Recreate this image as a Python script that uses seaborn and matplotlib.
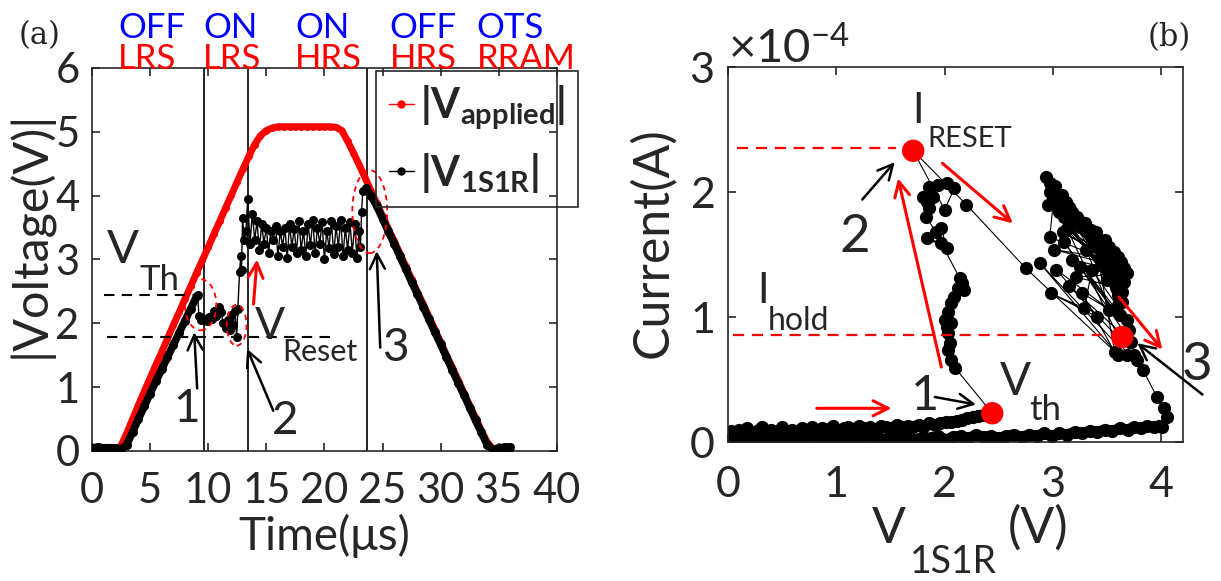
import numpy as np
import matplotlib
matplotlib.use("Agg")
import matplotlib.pyplot as plt
import matplotlib.transforms as mtransforms
import seaborn as sns
from matplotlib.patches import Ellipse
from matplotlib.lines import Line2D
from matplotlib.ticker import ScalarFormatter

# ---------------------------------
# Panel (a): |V| vs time
# ---------------------------------
t_applied = [0.0, 0.5, 1.0, 1.5, 2.0, 2.5, 3.0, 3.5, 4.0, 4.5,
             5.0, 5.5, 6.0, 6.5, 7.0, 7.5, 8.0, 8.5, 9.0, 9.5,
             10.0, 10.5, 11.0, 11.5, 12.0, 12.5, 13.0, 13.5, 14.0, 14.5,
             15.0, 15.5, 16.0, 16.5, 17.0, 17.5, 18.0, 18.5, 19.0, 19.5,
             20.0, 20.5, 21.0, 21.5, 22.0, 22.5, 23.0, 23.5, 24.0, 24.5,
             25.0, 25.5, 26.0, 26.5, 27.0, 27.5, 28.0, 28.5, 29.0, 29.5,
             30.0, 30.5, 31.0, 31.5, 32.0, 32.5, 33.0, 33.5, 34.0, 34.5,
             35.0, 35.5, 36.0]
v_applied = [0.02, 0.02, 0.02, 0.02, 0.02, 0.08, 0.28, 0.50, 0.72, 0.93,
             1.14, 1.35, 1.55, 1.76, 1.97, 2.17, 2.38, 2.58, 2.79, 2.99,
             3.19, 3.40, 3.60, 3.81, 4.01, 4.22, 4.42, 4.62, 4.80, 4.94,
             5.02, 5.06, 5.08, 5.08, 5.08, 5.08, 5.08, 5.08, 5.08, 5.08,
             5.08, 5.08, 5.07, 5.02, 4.85, 4.67, 4.48, 4.28, 4.08, 3.88,
             3.68, 3.48, 3.29, 3.09, 2.89, 2.69, 2.49, 2.30, 2.10, 1.90,
             1.70, 1.50, 1.31, 1.11, 0.91, 0.71, 0.52, 0.32, 0.14, 0.03,
             0.02, 0.02, 0.02]

# |V_1S1R|: ramp up, switching, HRS noise, ramp down
t_rise = [0.0, 0.5, 1.0, 1.5, 2.0, 2.5, 3.0, 3.5, 4.0, 4.5, 5.0, 5.5, 6.0,
          6.5, 7.0, 7.5, 8.0, 8.5, 9.0]
v_rise = [0.05, 0.06, 0.05, 0.05, 0.05, 0.03, 0.10, 0.30, 0.50, 0.70, 0.90,
          1.09, 1.28, 1.47, 1.66, 1.85, 2.04, 2.23, 2.42]
t_sw = [9.1, 9.2, 9.35, 9.5, 9.7, 9.9, 10.1, 10.3, 10.5, 10.7,
        10.9, 11.1, 11.3, 11.5, 11.7, 11.9, 12.0, 12.15, 12.3, 12.45,
        12.55, 12.7, 12.8, 12.87, 12.96, 13.1, 13.25]
v_sw = [2.44, 2.12, 2.05, 2.08, 2.05, 2.03, 2.10, 2.06, 2.20, 2.12,
        2.25, 2.18, 2.00, 1.93, 2.05, 1.90, 2.13, 1.98, 2.20, 1.78,
        2.22, 2.80, 3.05, 2.84, 3.65, 3.30, 3.45]
t_hrs = [13.4, 13.6, 13.8, 14.0, 14.2, 14.4, 14.6, 14.8, 15.0, 15.2,
         15.4, 15.6, 15.8, 16.0, 16.2, 16.4, 16.6, 16.8, 17.0, 17.2,
         17.4, 17.6, 17.8, 18.0, 18.2, 18.4, 18.6, 18.8, 19.0, 19.2,
         19.4, 19.6, 19.8, 20.0, 20.2, 20.4, 20.6, 20.8, 21.0, 21.2,
         21.4, 21.6, 21.8, 22.0, 22.2, 22.4, 22.6, 22.8, 23.0, 23.1,
         23.2, 23.3]
v_hrs = [3.95, 3.25, 3.72, 3.30, 3.60, 3.15, 3.55, 3.25, 3.50, 3.10,
         3.45, 3.30, 3.52, 3.05, 3.45, 3.20, 3.50, 3.02, 3.55, 3.20,
         3.48, 3.10, 3.60, 3.15, 3.45, 3.05, 3.55, 3.22, 3.62, 3.10,
         3.50, 3.25, 3.58, 3.00, 3.45, 3.18, 3.60, 3.08, 3.52, 3.20,
         3.62, 3.05, 3.50, 3.15, 3.58, 3.10, 3.55, 3.02, 3.45, 3.20,
         3.75, 4.08]
t_fall = [23.6, 24.0, 24.5, 25.0, 25.5, 26.0, 26.5, 27.0, 27.5, 28.0,
          28.5, 29.0, 29.5, 30.0, 30.5, 31.0, 31.5, 32.0, 32.5, 33.0,
          33.5, 34.0, 34.5, 35.0, 35.5, 36.0]
v_fall = [4.12, 4.00, 3.84, 3.64, 3.44, 3.25, 3.05, 2.85, 2.65, 2.46,
          2.26, 2.06, 1.86, 1.67, 1.47, 1.27, 1.07, 0.88, 0.68, 0.48,
          0.29, 0.10, 0.02, 0.05, 0.06, 0.06]

t_regions = [9.68, 13.4, 23.7]
v_th_level = 2.44
v_reset_level = 1.79

state_t = [2.24, 9.57, 17.5, 25.6, 33.1]
state_ots = ["OFF", "ON", "ON", "OFF", "OTS"]
state_rram = ["LRS", "LRS", "HRS", "HRS", "RRAM"]

# ---------------------------------
# Panel (b): I-V of the 1S1R cell (current in 1e-4 A)
# ---------------------------------
I_UNIT = 1e-4
b_rise_v = [0.00, 0.03, 0.06, 0.10, 0.14, 0.18, 0.22, 0.27, 0.31, 0.36,
            0.40, 0.45, 0.50, 0.54, 0.59, 0.64, 0.68, 0.73, 0.78, 0.83,
            0.87, 0.92, 0.97, 1.02, 1.07, 1.11, 1.16, 1.21, 1.26, 1.31,
            1.36, 1.41, 1.46, 1.51, 1.56, 1.61, 1.66, 1.71, 1.76, 1.81,
            1.86, 1.91, 1.96, 2.01, 2.06, 2.11, 2.16, 2.21, 2.26, 2.31,
            2.36, 2.40]
b_rise_i = [0.05, 0.09, 0.04, 0.10, 0.07, 0.11, 0.05, 0.09, 0.12, 0.06,
            0.10, 0.08, 0.12, 0.07, 0.10, 0.05, 0.11, 0.09, 0.12, 0.08,
            0.11, 0.10, 0.13, 0.09, 0.11, 0.12, 0.10, 0.13, 0.11, 0.12,
            0.10, 0.13, 0.12, 0.11, 0.14, 0.12, 0.13, 0.12, 0.14, 0.13,
            0.15, 0.14, 0.15, 0.16, 0.16, 0.17, 0.18, 0.19, 0.20, 0.21,
            0.22, 0.23]
b_sw_v = [2.44, 2.10, 2.06, 2.03, 2.05, 2.03, 2.02, 2.06, 2.00, 2.03,
          2.06, 2.09, 2.12, 2.18, 2.16, 2.14, 1.97, 1.84, 2.02, 1.97,
          1.92, 1.83, 1.86, 1.84, 1.89, 1.80, 1.86, 1.94, 2.02, 2.09,
          2.00, 1.71, 2.20, 2.75]
b_sw_i = [0.23, 0.59, 0.66, 0.74, 0.79, 0.87, 0.92, 0.95, 0.98, 1.04,
          1.11, 1.16, 1.23, 1.22, 1.27, 1.31, 1.59, 1.63, 1.55, 1.71,
          1.68, 1.80, 1.87, 1.92, 1.96, 1.96, 2.04, 2.06, 2.07, 2.03,
          1.86, 2.33, 1.90, 1.39]
b_hrs_v = [3.60, 2.88, 3.68, 2.97, 3.25, 2.94, 3.30, 2.97, 3.35, 3.00,
           3.40, 3.05, 3.45, 2.95, 3.50, 3.06, 3.55, 3.09, 3.60, 2.97,
           3.02, 3.40, 3.08, 3.48, 3.12, 3.52, 3.15, 3.56, 3.18, 3.60,
           3.22, 3.63, 3.26, 3.58, 3.30, 3.55, 3.34, 3.50, 3.38, 3.62,
           3.42, 3.66, 3.45, 3.60, 3.48, 3.64, 3.10, 3.44, 3.14, 3.53,
           3.66, 3.01, 3.57, 3.12, 3.62, 3.18, 3.68, 3.21, 3.58, 3.31,
           3.52, 3.03, 3.41, 2.98, 3.29, 3.36, 3.68, 3.27, 3.57, 3.40,
           3.60, 3.46, 3.64, 3.20, 3.50, 3.36, 3.62, 3.10, 3.70, 3.25,
           3.72, 3.15, 3.75, 3.78, 3.83, 3.96, 4.03, 4.05, 4.01]
b_hrs_i = [0.70, 1.43, 0.70, 2.00, 1.72, 2.12, 1.75, 2.07, 1.70, 1.95,
           1.62, 1.90, 1.58, 1.90, 1.50, 1.84, 1.45, 1.68, 1.42, 1.64,
           2.05, 1.68, 1.98, 1.62, 1.92, 1.56, 1.88, 1.52, 1.84, 1.48,
           1.80, 1.44, 1.76, 1.40, 1.70, 1.36, 1.66, 1.40, 1.60, 1.34,
           1.55, 1.28, 1.50, 1.18, 1.45, 1.12, 1.80, 1.42, 1.72, 1.32,
           1.39, 1.54, 1.46, 1.70, 1.30, 1.46, 1.35, 1.32, 1.24, 1.54,
           1.06, 1.38, 1.00, 1.19, 1.07, 1.38, 0.98, 1.19, 0.72, 1.56,
           1.10, 1.59, 1.20, 1.75, 1.30, 1.64, 1.02, 1.60, 0.90, 1.40,
           0.80, 1.25, 0.70, 0.66, 0.58, 0.36, 0.27, 0.20, 0.12]
b_fall_v = [3.98, 3.93, 3.87, 3.81, 3.75, 3.69, 3.62, 3.55, 3.48, 3.41,
            3.34, 3.27, 3.20, 3.13, 3.06, 2.99, 2.92, 2.85, 2.78, 2.71,
            2.64, 2.57, 2.50, 2.43, 2.36, 2.29, 2.22, 2.15, 2.08, 2.01,
            1.94, 1.87, 1.80, 1.73, 1.66, 1.59, 1.52, 1.45, 1.38, 1.31,
            1.24, 1.17, 1.10, 1.03, 0.96, 0.89, 0.82, 0.75, 0.68, 0.61,
            0.54, 0.47, 0.40, 0.33, 0.26, 0.19, 0.12, 0.06, 0.02]
b_fall_i = [0.13, 0.12, 0.13, 0.11, 0.12, 0.10, 0.11, 0.09, 0.10, 0.08,
            0.09, 0.07, 0.08, 0.06, 0.07, 0.05, 0.07, 0.05, 0.06, 0.04,
            0.06, 0.05, 0.03, 0.05, 0.04, 0.06, 0.03, 0.05, 0.04, 0.02,
            0.05, 0.03, 0.04, 0.02, 0.04, 0.03, 0.05, 0.02, 0.04, 0.03,
            0.05, 0.02, 0.04, 0.03, 0.01, 0.04, 0.03, 0.05, 0.02, 0.04,
            0.03, 0.01, 0.04, 0.02, 0.05, 0.03, 0.02, 0.04, 0.03]

# key points: V_th, I_RESET, point 3
key_v = [2.44, 1.71, 3.64]
key_i = [0.23, 2.33, 0.84]
i_reset_level = 2.35
i_hold_level = 0.86

# ---------------------------------
# Style
# ---------------------------------
sns.set_theme(style="ticks")
plt.rcParams["font.family"] = ["Lato", "DejaVu Sans"]
plt.rcParams.update({
    "mathtext.fontset": "custom",
    "mathtext.rm": "Lato",
    "mathtext.it": "Lato:italic",
    "mathtext.bf": "Lato:bold",
    "axes.edgecolor": "#262626",
    "axes.linewidth": 1.2,
    "xtick.color": "#262626",
    "ytick.color": "#262626",
})
DARK = "#262626"

fig = plt.figure(figsize=(12.21, 5.81), dpi=100)
ax_a = fig.add_axes([0.0753, 0.2238, 0.3808, 0.6592])
ax_b = fig.add_axes([0.5962, 0.2392, 0.3726, 0.6454])

for ax in (ax_a, ax_b):
    ax.tick_params(direction="in", top=True, right=True, length=6, width=1.2,
                   colors=DARK)

# ---------------------------------
# Panel (a)
# ---------------------------------
t_1s1r = t_rise + t_sw + t_hrs + t_fall
v_1s1r = v_rise + v_sw + v_hrs + v_fall

sns.lineplot(x=t_applied, y=v_applied, ax=ax_a, color="red", lw=5,
             marker="o", markersize=5, markeredgewidth=0, zorder=2)
sns.lineplot(x=t_rise, y=v_rise, ax=ax_a, color="black", lw=5.5, zorder=3)
sns.lineplot(x=t_fall, y=v_fall, ax=ax_a, color="black", lw=5.5, zorder=3)
sns.lineplot(x=t_1s1r, y=v_1s1r, ax=ax_a, color="black", lw=1,
             marker="o", markersize=6.5, markeredgewidth=0, zorder=4)

for tr in t_regions:
    ax_a.axvline(tr, color="black", lw=1.2, zorder=1)

ax_a.hlines(v_th_level, 1.0, 8.8, colors="black", linestyles=(0, (5, 3.5)), lw=1.5)
ax_a.hlines(v_reset_level, 1.3, 21.0, colors="black", linestyles=(0, (5, 3.5)), lw=1.5)

for (cx, cy, w, h) in [(9.35, 2.29, 2.7, 0.8), (12.45, 1.97, 1.7, 0.64),
                       (23.9, 3.75, 3.0, 1.3)]:
    ax_a.add_patch(Ellipse((cx, cy), w, h, fill=False, ec="red", lw=1.3,
                           ls=(0, (3, 2.5)), zorder=5))

black_arrow = dict(arrowstyle="->,head_length=0.6,head_width=0.3", color="black",
                   lw=1.8, mutation_scale=18, shrinkA=0, shrinkB=0)
red_arrow = dict(arrowstyle="->,head_length=0.6,head_width=0.3", color="red",
                 lw=2.2, mutation_scale=18, shrinkA=0, shrinkB=0)

ax_a.annotate("", xy=(14.2, 3.0), xytext=(13.9, 2.3), arrowprops=red_arrow)
ax_a.annotate("", xy=(8.8, 1.86), xytext=(9.05, 0.98), arrowprops=black_arrow)
ax_a.annotate("", xy=(13.35, 1.6), xytext=(15.6, 0.63), arrowprops=black_arrow)
ax_a.annotate("", xy=(24.5, 3.13), xytext=(24.8, 1.62), arrowprops=black_arrow)

ax_a.text(8.15, 0.46, "1", fontsize=33, ha="center", va="baseline")
ax_a.text(16.6, 0.27, "2", fontsize=33, ha="center", va="baseline")
ax_a.text(26.1, 1.41, "3", fontsize=33, ha="center", va="baseline")

ax_a.text(1.3, 2.94, "V", fontsize=34, ha="left", va="baseline")
ax_a.text(4.05, 2.52, "Th", fontsize=25, ha="left", va="baseline")
ax_a.text(14.0, 1.75, "V", fontsize=32, ha="left", va="baseline")
ax_a.text(16.4, 1.41, "Reset", fontsize=22, ha="left", va="baseline")

trans_a = mtransforms.blended_transform_factory(ax_a.transData, ax_a.transAxes)
for tx, top, bot in zip(state_t, state_ots, state_rram):
    ax_a.text(tx, 1.078, top, transform=trans_a, color="blue", fontsize=25,
              ha="left", va="baseline", clip_on=False)
    ax_a.text(tx, 0.998, bot, transform=trans_a, color="red", fontsize=25,
              ha="left", va="baseline", clip_on=False)

ax_a.set_xlim(0, 40)
ax_a.set_ylim(0, 6)
ax_a.set_xticks(range(0, 41, 5))
ax_a.set_yticks(range(0, 7))
ax_a.tick_params(axis="both", labelsize=30)
ax_a.tick_params(axis="x", pad=15)
ax_a.tick_params(axis="y", pad=9)
ax_a.set_xlabel("Time(μs)", fontsize=33, color=DARK)
ax_a.set_ylabel("|Voltage(V)|", fontsize=35, color=DARK)
ax_a.xaxis.set_label_coords(0.5, -0.165)
ax_a.yaxis.set_label_coords(-0.082, 0.565)

handles = [Line2D([], [], color="red", lw=1, marker="o", ms=5),
           Line2D([], [], color="black", lw=1, marker="o", ms=5)]
leg = ax_a.legend(handles, [r"$\mathbf{|V_{applied}|}$", r"$\mathbf{|V_{1S1R}|}$"],
                  loc="upper left", bbox_to_anchor=(0.612, 0.992), fontsize=30,
                  frameon=True, fancybox=False, edgecolor=DARK, facecolor="none",
                  framealpha=1, handlelength=0.6, handletextpad=0.15,
                  borderpad=0.3, labelspacing=0.45, borderaxespad=0)
leg.get_frame().set_linewidth(1.2)

# ---------------------------------
# Panel (b)
# ---------------------------------
b_v = b_rise_v + b_sw_v + b_hrs_v + b_fall_v
b_i = np.array(b_rise_i + b_sw_i + b_hrs_i + b_fall_i) * I_UNIT

sns.lineplot(x=b_rise_v, y=np.array(b_rise_i) * I_UNIT, ax=ax_b, sort=False,
             estimator=None, color="black", lw=7.5)
sns.lineplot(x=b_fall_v, y=np.array(b_fall_i) * I_UNIT, ax=ax_b, sort=False,
             estimator=None, color="black", lw=7.5)
sns.lineplot(x=b_v, y=b_i, ax=ax_b, sort=False, estimator=None, color="black",
             lw=0.8, marker="o", markersize=9.5, markeredgewidth=0)
sns.scatterplot(x=key_v, y=np.array(key_i) * I_UNIT, ax=ax_b, color="red",
                s=260, edgecolor="none", zorder=6)

ax_b.hlines(i_reset_level * I_UNIT, 0.08, 1.55, colors="red",
            linestyles=(0, (5, 3.5)), lw=1.6)
ax_b.hlines(i_hold_level * I_UNIT, 0.05, 3.45, colors="red",
            linestyles=(0, (5, 3.5)), lw=1.6)

for tail, head in [((0.82, 0.27), (1.51, 0.27)), ((1.97, 0.60), (1.57, 2.11)),
                   ((1.98, 2.23), (2.63, 1.75)), ((3.61, 1.16), (4.01, 0.74))]:
    ax_b.annotate("", xy=(head[0], head[1] * I_UNIT),
                  xytext=(tail[0], tail[1] * I_UNIT), arrowprops=red_arrow)
for tail, head in [((1.24, 1.94), (1.54, 2.24)), ((1.91, 0.36), (2.29, 0.30)),
                   ((4.38, 0.38), (3.78, 0.79))]:
    ax_b.annotate("", xy=(head[0], head[1] * I_UNIT),
                  xytext=(tail[0], tail[1] * I_UNIT), arrowprops=black_arrow,
                  annotation_clip=False)

ax_b.text(1.82, 0.26 * I_UNIT, "1", fontsize=35, ha="center", va="baseline")
ax_b.text(1.17, 1.52 * I_UNIT, "2", fontsize=38, ha="center", va="baseline")
ax_b.text(4.33, 0.50 * I_UNIT, "3", fontsize=38, ha="center", va="baseline",
          clip_on=False)

ax_b.text(1.70, 2.55 * I_UNIT, "I", fontsize=30, ha="left", va="baseline")
ax_b.text(1.84, 2.36 * I_UNIT, "RESET", fontsize=21, ha="left", va="baseline")
ax_b.text(0.27, 1.11 * I_UNIT, "I", fontsize=30, ha="left", va="baseline")
ax_b.text(0.37, 0.90 * I_UNIT, "hold", fontsize=23, ha="left", va="baseline")
ax_b.text(2.51, 0.38 * I_UNIT, "V", fontsize=33, ha="left", va="baseline")
ax_b.text(2.78, 0.18 * I_UNIT, "th", fontsize=25, ha="left", va="baseline")

ax_b.set_xlim(0, 4.2)
ax_b.set_ylim(0, 3 * I_UNIT)
ax_b.set_xticks(range(0, 5))
ax_b.set_yticks(np.array([0, 1, 2, 3]) * I_UNIT)
fmt = ScalarFormatter(useMathText=True)
fmt.set_powerlimits((0, 0))
ax_b.yaxis.set_major_formatter(fmt)
ax_b.yaxis.get_offset_text().set_fontsize(34)
ax_b.yaxis.get_offset_text().set_color(DARK)
ax_b.tick_params(axis="both", labelsize=31)
ax_b.tick_params(axis="x", pad=17)
ax_b.tick_params(axis="y", pad=10)
ax_b.set_ylabel("Current(A)", fontsize=36, color=DARK)
ax_b.yaxis.set_label_coords(-0.114, 0.533)
ax_b.set_xlabel("")
ax_b.text(0.316, -0.269, "V", transform=ax_b.transAxes, fontsize=36,
          color=DARK, ha="left", va="baseline")
ax_b.text(0.40, -0.349, "1S1R", transform=ax_b.transAxes, fontsize=27,
          color=DARK, ha="left", va="baseline")
ax_b.text(0.615, -0.269, "(V)", transform=ax_b.transAxes, fontsize=36,
          color=DARK, ha="left", va="baseline")

# panel tags
fig.text(0.0328, 0.938, "(a)", family="DejaVu Serif", fontsize=22,
         ha="center", va="center")
fig.text(0.9574, 0.936, "(b)", family="DejaVu Serif", fontsize=22,
         ha="center", va="center")

fig.savefig("out.png", dpi=100)
